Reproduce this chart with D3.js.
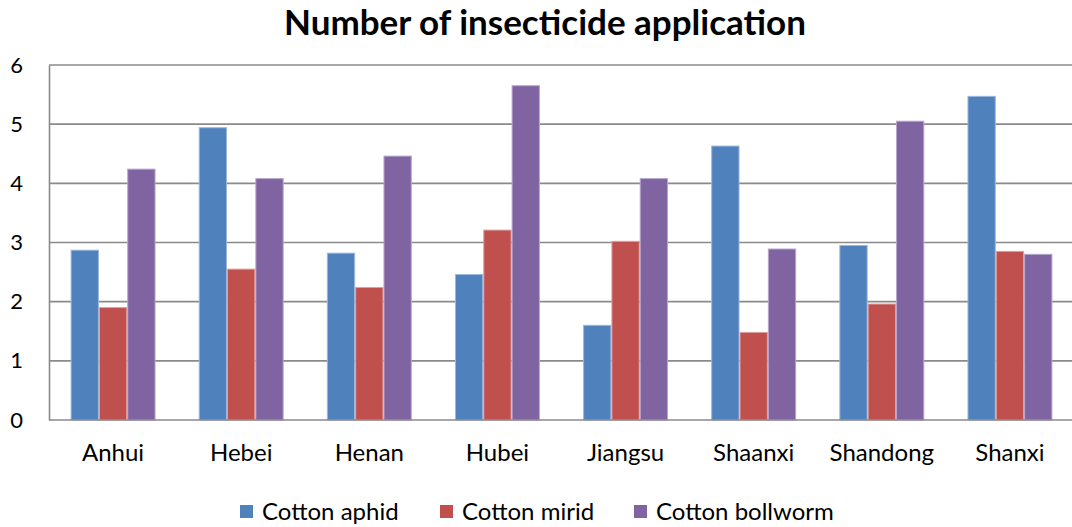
<!DOCTYPE html>
<html>
<head>
<meta charset="utf-8">
<script src="https://cdn.jsdelivr.net/npm/d3@7"></script>
<style>
  body { margin: 0; background: #fff; }
  svg { display: block; }
  text { font-family: Lato, "Open Sans", sans-serif; fill: #000; }
</style>
</head>
<body>
<svg id="chart" width="1072" height="527"></svg>
<script>
// Provinces along the x axis
const provinces = ["Anhui", "Hebei", "Henan", "Hubei", "Jiangsu", "Shaanxi", "Shandong", "Shanxi"];
// Average number of insecticide applications per pest
const cottonAphid    = [2.87, 4.94, 2.82, 2.46, 1.60, 4.63, 2.95, 5.47];
const cottonMirid    = [1.90, 2.55, 2.24, 3.21, 3.02, 1.48, 1.96, 2.85];
const cottonBollworm = [4.24, 4.08, 4.46, 5.65, 4.08, 2.89, 5.05, 2.80];
const seriesNames  = ["Cotton aphid", "Cotton mirid", "Cotton bollworm"];
const seriesColors = ["#4F81BD", "#C0504D", "#8064A2"];
const seriesEdges  = ["#9DB8DC", "#DDA09E", "#B7A6CD"];
const yTicks = [0, 1, 2, 3, 4, 5, 6];

const svg = d3.select("#chart");
const margin = { left: 49, right: -2, top: 65, bottom: 107 };
const W = 1072, H = 527;

const x0 = d3.scaleBand()
  .domain(provinces)
  .range([margin.left, W - margin.right])
  .paddingInner(0.337)
  .paddingOuter(0.1685);

const x1 = d3.scaleBand()
  .domain(seriesNames)
  .range([0, x0.bandwidth()]);

const y = d3.scaleLinear()
  .domain([0, 6])
  .range([H - margin.bottom, margin.top]);

// Horizontal gridlines
svg.append("g")
  .selectAll("line")
  .data(yTicks.filter(d => d > 0))
  .join("line")
  .attr("x1", margin.left)
  .attr("x2", W)
  .attr("y1", d => y(d))
  .attr("y2", d => y(d))
  .attr("stroke", "#8a8a8a")
  .attr("stroke-width", 1.6);

// Y axis labels
const yAxis = d3.axisLeft(y).tickValues(yTicks).tickSize(0).tickPadding(26).tickFormat(d3.format("d"));
const gy = svg.append("g")
  .attr("transform", `translate(${margin.left},0)`)
  .call(yAxis);
gy.select(".domain").attr("stroke", "#8a8a8a").attr("stroke-width", 1.6);
gy.selectAll("text")
  .style("font-family", "Lato, sans-serif")
  .style("font-size", "22px")
  .attr("fill", "#000");

// Grouped bars
const table = provinces.map((p, i) => ({
  province: p,
  values: [cottonAphid[i], cottonMirid[i], cottonBollworm[i]]
}));

const groups = svg.append("g")
  .selectAll("g")
  .data(table)
  .join("g")
  .attr("transform", d => `translate(${x0(d.province)},0)`);

groups.selectAll("rect")
  .data(d => d.values.map((v, k) => ({ v, k })))
  .join("rect")
  .attr("x", d => x1(seriesNames[d.k]) + 0.5)
  .attr("width", x1.bandwidth() - 1)
  .attr("y", d => y(d.v))
  .attr("height", d => y(0) - y(d.v))
  .attr("fill", d => seriesColors[d.k])
  .attr("stroke", d => seriesEdges[d.k])
  .attr("stroke-width", 1);

// X axis baseline and category labels
const xAxis = d3.axisBottom(x0).tickSize(0).tickPadding(24);
const gx = svg.append("g")
  .attr("transform", `translate(0,${y(0)})`)
  .call(xAxis);
gx.select(".domain").attr("stroke", "#8a8a8a").attr("stroke-width", 1.6)
  .attr("d", `M${margin.left},0H${W}`);
gx.selectAll("text")
  .style("font-family", "Lato, sans-serif")
  .style("font-size", "24px")
  .attr("fill", "#000");

// Title
svg.append("text")
  .attr("x", 545)
  .attr("y", 35)
  .attr("text-anchor", "middle")
  .style("font-size", "35px")
  .style("font-weight", "bold")
  .text("Number of insecticide application");

// Legend
const legendX = [240, 440, 634];
const legend = svg.append("g")
  .selectAll("g")
  .data(seriesNames)
  .join("g")
  .attr("transform", (d, i) => `translate(${legendX[i]},505)`);
legend.append("rect")
  .attr("width", 13)
  .attr("height", 13)
  .attr("fill", (d, i) => seriesColors[i]);
legend.append("text")
  .attr("x", 22)
  .attr("y", 15)
  .style("font-size", "24px")
  .text(d => d);
</script>
</body>
</html>
